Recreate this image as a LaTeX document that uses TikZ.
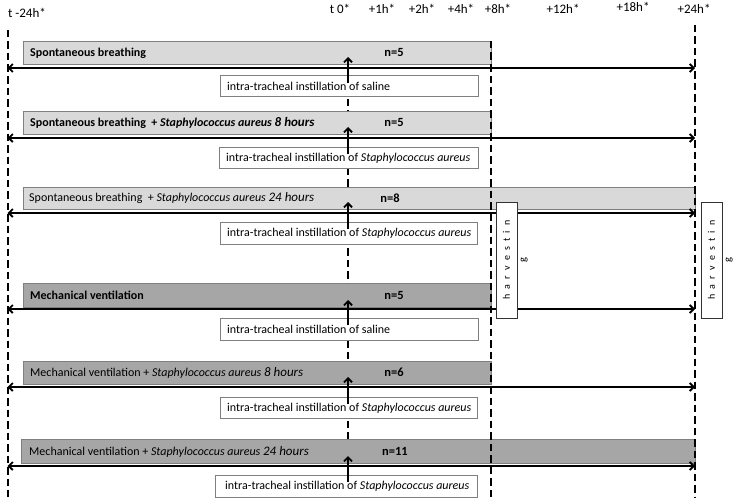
\documentclass[tikz,border=0pt]{standalone}
\usepackage{fontspec}
\setmainfont{Carlito}
\usetikzlibrary{arrows.meta,positioning}
\definecolor{barlight}{HTML}{D9D9D9}
\definecolor{bardark}{HTML}{A6A6A6}
\definecolor{edgegray}{HTML}{7F7F7F}
\newcommand{\spreadout}{\spaceskip=5.2pt\relax}
\newcommand{\hrs}[1]{{\fontsize{13}{15}\selectfont\textit{#1}}}
\tikzstyle{lightbar} = [draw=edgegray, fill=barlight, anchor=north west, inner sep=0pt, line width=1pt]
\tikzstyle{darkbar} = [lightbar, fill=bardark]
\tikzstyle{infobox} = [draw=edgegray, fill=white, anchor=north west, inner sep=0pt, line width=0.9pt]
\tikzstyle{bartext} = [anchor=west, inner sep=0pt, font=\fontsize{12}{14}\selectfont]
\tikzstyle{count} = [inner sep=0pt, font=\fontsize{12.5}{14}\selectfont\bfseries]
\tikzstyle{hdr} = [inner sep=0pt, font=\fontsize{13}{15}\selectfont]
\tikzstyle{guideline} = [line width=2pt, dash pattern=on 7.5pt off 4pt]
\tikzstyle{timespan} = [line width=1.8pt, {Straight Barb[length=4pt,width=8pt]}-{Straight Barb[length=4pt,width=8pt]}]
\tikzstyle{inject} = [line width=1.8pt, -{Straight Barb[length=4pt,width=8pt]}]
\tikzstyle{harvest} = [draw=black!80, fill=white, rotate=90, minimum width=116pt, minimum height=21pt, inner sep=0pt, line width=1pt, font=\fontsize{10}{12}\selectfont\spreadout]
\tikzstyle{spill} = [rotate=90, anchor=north, inner sep=1pt, font=\fontsize{10.5}{12}\selectfont]

\begin{document}
\begin{tikzpicture}[x=1pt, y=-1pt]
	\useasboundingbox (0,0) rectangle (733,503);

	\coordinate (lft) at (7.5,30);
	\coordinate (lftend) at (7.5,497);
	\coordinate (tz) at (348,41);
	\coordinate (tzend) at (348,497);
	\coordinate (te) at (491,41);
	\coordinate (teend) at (491,497);
	\coordinate (rgt) at (695,25);
	\coordinate (rgtend) at (695,497);

	\draw[guideline] (tz) -- (tzend);

	\node[lightbar, minimum width=468pt, minimum height=23pt] (bar1) at (23,41) {};
	\node[lightbar, minimum width=468pt, minimum height=23pt] (bar2) at (23,111) {};
	\node[lightbar, minimum width=672pt, minimum height=22pt] (bar3) at (23,187) {};
	\node[darkbar, minimum width=468pt, minimum height=24pt] (bar4) at (23,283) {};
	\node[darkbar, minimum width=468pt, minimum height=23pt] (bar5) at (23,361) {};
	\node[darkbar, minimum width=674pt, minimum height=24pt] (bar6) at (21,439) {};

	\node[bartext, right=7pt of bar1.west] (txt1) {\textbf{Spontaneous breathing}};
	\node[bartext, right=7pt of bar2.west] (txt2) {\textbf{Spontaneous breathing~ + \textit{Staphylococcus aureus} \hrs{8 hours}}};
	\node[bartext, right=6pt of bar3.west] (txt3) {Spontaneous breathing~ + \textit{Staphylococcus aureus} \hrs{24 hours}};
	\node[bartext, right=7pt of bar4.west] (txt4) {\textbf{Mechanical ventilation}};
	\node[bartext, right=7pt of bar5.west] (txt5) {Mechanical ventilation + \textit{Staphylococcus aureus} \hrs{8 hours}};
	\node[bartext, right=8pt of bar6.west] (txt6) {Mechanical ventilation + \textit{Staphylococcus aureus} \hrs{24 hours}};

	\node[count] (n1) at (394,52.5) {n=5};
	\node[count] (n2) at (394,122.5) {n=5};
	\node[count] (n3) at (390,198) {n=8};
	\node[count] (n4) at (394,295) {n=5};
	\node[count] (n5) at (394,372.5) {n=6};
	\node[count] (n6) at (395,451) {n=11};

	\node[infobox, minimum width=258pt, minimum height=21pt] (box1) at (220,75) {};
	\node[infobox, minimum width=259pt, minimum height=21pt] (box2) at (219,147) {};
	\node[infobox, minimum width=257pt, minimum height=22pt] (box3) at (220,222) {};
	\node[infobox, minimum width=258pt, minimum height=22pt] (box4) at (220,318) {};
	\node[infobox, minimum width=257pt, minimum height=21pt] (box5) at (220,397) {};
	\node[infobox, minimum width=262pt, minimum height=22pt] (box6) at (215,475) {};

	\node[bartext, right=7pt of box1.west] (info1) {intra-tracheal instillation of saline};
	\node[bartext, right=7pt of box2.west] (info2) {intra-tracheal instillation of \textit{Staphylococcus aureus}};
	\node[bartext, right=7pt of box3.west] (info3) {intra-tracheal instillation of \textit{Staphylococcus aureus}};
	\node[bartext, right=7pt of box4.west] (info4) {intra-tracheal instillation of saline};
	\node[bartext, right=7pt of box5.west] (info5) {intra-tracheal instillation of \textit{Staphylococcus aureus}};
	\node[bartext, right=10pt of box6.west] (info6) {intra-tracheal instillation of \textit{Staphylococcus aureus}};

	\draw[timespan] ([yshift=-3pt]bar1.south -| lft) -- ([yshift=-3pt]bar1.south -| rgt);
	\draw[timespan] ([yshift=-3pt]bar2.south -| lft) -- ([yshift=-3pt]bar2.south -| rgt);
	\draw[timespan] ([yshift=-3pt]bar3.south -| lft) -- ([yshift=-3pt]bar3.south -| rgt);
	\draw[timespan] ([yshift=-1pt]bar4.south -| lft) -- ([yshift=-1pt]bar4.south -| rgt);
	\draw[timespan] ([yshift=-2pt]bar5.south -| lft) -- ([yshift=-2pt]bar5.south -| rgt);
	\draw[timespan] ([yshift=-2pt]bar6.south -| lft) -- ([yshift=-2pt]bar6.south -| rgt);

	\draw[inject] ([yshift=-8pt]box1.north -| tz) -- ([yshift=8pt]bar1.south -| tz);
	\draw[inject] ([yshift=-7pt]box2.north -| tz) -- ([yshift=8pt]bar2.south -| tz);
	\draw[inject] ([yshift=-7pt]box3.north -| tz) -- ([yshift=8pt]bar3.south -| tz);
	\draw[inject] ([yshift=-7pt]box4.north -| tz) -- ([yshift=8pt]bar4.south -| tz);
	\draw[inject] ([yshift=-7pt]box5.north -| tz) -- ([yshift=8pt]bar5.south -| tz);
	\draw[inject] ([yshift=-7pt]box6.north -| tz) -- ([yshift=8pt]bar6.south -| tz);

	\draw[guideline] (lft) -- (lftend);
	\draw[guideline] (te) -- (teend);
	\draw[guideline] (rgt) -- (rgtend);

	\node[harvest] (cut1) at (506.5,260) {h a r v e s t i n};
	\node[spill] (g1) at ([xshift=2pt]cut1.south) {g};
	\node[harvest] (cut2) at (711.5,260) {h a r v e s t i n};
	\node[spill] (g2) at ([xshift=2pt]cut2.south) {g};

	\node[hdr] (lm24) at (27,13) {t -24h*};
	\node[hdr] (l0) at (340,9) {t 0*};
	\node[hdr] (l1) at (382,9) {+1h*};
	\node[hdr] (l2) at (422,9) {+2h*};
	\node[hdr] (l4) at (461,9) {+4h*};
	\node[hdr] (l8) at (498,9) {+8h*};
	\node[hdr] (l12) at (563,9) {+12h*};
	\node[hdr] (l18) at (633,7) {+18h*};
	\node[hdr] (l24) at (694,9) {+24h*};
\end{tikzpicture}
\end{document}
